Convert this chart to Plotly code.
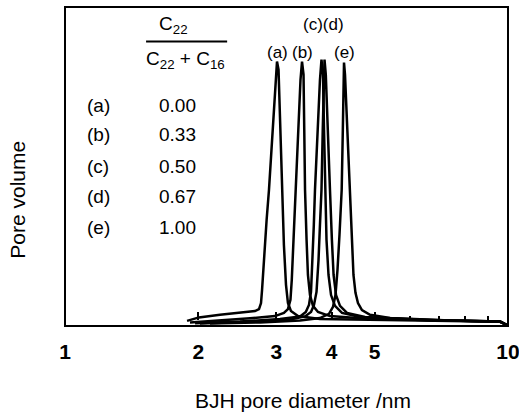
import numpy as np
import plotly.graph_objects as go

# Pore size distributions (BJH pore diameter in nm, pore volume in arbitrary units)
diam_a = [1.886, 2.006, 2.238, 2.483, 2.685, 2.741, 2.77, 2.785, 2.814, 2.852, 2.887, 2.948, 2.987, 3.01,
          3.034, 3.057, 3.089, 3.12, 3.154, 3.186, 3.236, 3.357, 3.763, 5.0, 7.4, 9.6, 9.95]
vol_a = [0.016, 0.027, 0.035, 0.041, 0.047, 0.053, 0.072, 0.113, 0.223, 0.333, 0.427, 0.631, 0.757, 0.829,
         0.804, 0.647, 0.427, 0.254, 0.129, 0.072, 0.047, 0.031, 0.022, 0.019, 0.016, 0.013, 0.003]

diam_b = [1.915, 2.238, 2.616, 2.979, 3.12, 3.186, 3.228, 3.25, 3.28, 3.305, 3.366, 3.401, 3.428,
          3.455, 3.468, 3.482, 3.51, 3.535, 3.573, 3.629, 3.725, 3.964, 4.634, 6.33, 9.6, 9.95]
vol_b = [0.011, 0.017, 0.024, 0.031, 0.041, 0.053, 0.082, 0.144, 0.27, 0.427, 0.647, 0.772, 0.829,
         0.788, 0.615, 0.427, 0.27, 0.16, 0.097, 0.063, 0.044, 0.031, 0.024, 0.019, 0.013, 0.003]

diam_c = [1.966, 2.483, 3.057, 3.393, 3.496, 3.554, 3.592, 3.62, 3.645, 3.667, 3.725, 3.763, 3.793,
          3.823, 3.843, 3.862, 3.893, 3.934, 3.986, 4.069, 4.22, 4.634, 6.33, 9.6, 9.95]
vol_c = [0.009, 0.014, 0.022, 0.030, 0.044, 0.066, 0.107, 0.207, 0.317, 0.427, 0.647, 0.772, 0.835,
         0.788, 0.615, 0.427, 0.27, 0.16, 0.097, 0.063, 0.041, 0.028, 0.019, 0.014, 0.003]

diam_d = [2.017, 2.616, 3.22, 3.482, 3.592, 3.648, 3.696, 3.735, 3.763, 3.793, 3.818, 3.838, 3.853,
          3.879, 3.914, 3.964, 4.004, 4.039, 4.091, 4.176, 4.331, 4.756, 6.67, 9.6, 9.95]
vol_d = [0.008, 0.013, 0.020, 0.030, 0.044, 0.066, 0.107, 0.207, 0.317, 0.427, 0.615, 0.757, 0.835,
         0.788, 0.615, 0.427, 0.27, 0.16, 0.097, 0.063, 0.041, 0.028, 0.019, 0.014, 0.003]

diam_e = [2.125, 2.755, 3.393, 3.763, 3.944, 4.027, 4.079, 4.122, 4.165, 4.213, 4.238, 4.253, 4.264,
          4.286, 4.341, 4.40, 4.444, 4.479, 4.526, 4.585, 4.681, 4.882, 5.415, 7.40, 9.6, 9.95]
vol_e = [0.008, 0.011, 0.017, 0.025, 0.038, 0.06, 0.097, 0.176, 0.286, 0.427, 0.615, 0.741, 0.826,
         0.788, 0.615, 0.427, 0.27, 0.16, 0.104, 0.072, 0.05, 0.035, 0.025, 0.017, 0.014, 0.003]

series_labels = ["(a)", "(b)", "(c)", "(d)", "(e)"]
ratios = ["0.00", "0.33", "0.50", "0.67", "1.00"]

x_tickvals = [1, 2, 3, 4, 5, 10]
x_ticktext = ["1", "2", "3", "4", "5", "10"]
inner_major = [2, 3, 4, 5]
inner_minor = [6, 7, 8, 9]

FONT = "Arial, Liberation Sans, sans-serif"


def txt(x, y, text, size, xref="paper", angle=0):
    return dict(x=x, y=y, xref=xref, yref="paper", text=text, showarrow=False,
                xanchor="center", yanchor="middle", textangle=angle,
                font=dict(size=size, family=FONT, color="black"))


fig = go.Figure()
for d, v in [(diam_a, vol_a), (diam_b, vol_b), (diam_c, vol_c), (diam_d, vol_d), (diam_e, vol_e)]:
    fig.add_trace(go.Scatter(x=d, y=v, mode="lines", line=dict(color="black", width=2.5),
                             showlegend=False, hoverinfo="skip"))

# invisible trace on inner baseline axis (carries the small baseline ticks)
fig.add_trace(go.Scatter(x=[1, 10], y=[0, 0], xaxis="x2", mode="lines",
                         line=dict(color="rgba(0,0,0,0)"), showlegend=False, hoverinfo="skip"))

ann = []
row_y = [0.691, 0.600, 0.499, 0.405, 0.308]
for lab, r, ypos in zip(series_labels, ratios, row_y):
    ann.append(txt(0.0745, ypos, lab, 19))
    ann.append(txt(0.255, ypos, r, 19))
ann.append(txt(0.244, 0.945, "C<sub>22</sub>", 19))
ann.append(txt(0.273, 0.835, "C<sub>22</sub> + C<sub>16</sub>", 19))
peak_pos = [(3.01, "(a)", 0.857), (3.428, "(b)", 0.857), (3.823, "(c)(d)", 0.945), (4.264, "(e)", 0.857)]
for xp, t, yp in peak_pos:
    ann.append(txt(np.log10(xp), yp, t, 17, xref="x"))
ann.append(txt(0.537, -0.232, "BJH pore diameter /nm", 21))
ann.append(txt(-0.106, 0.396, "Pore volume", 21, angle=-90))

fig.update_layout(
    width=519, height=415,
    margin=dict(l=65, r=11, t=7, b=89, autoexpand=False),
    paper_bgcolor="white", plot_bgcolor="white",
    showlegend=False,
    annotations=ann,
    shapes=[
        dict(type="line", xref="paper", yref="paper", x0=0.183, x1=0.366, y0=0.892, y1=0.892,
             line=dict(color="black", width=2)),
        dict(type="rect", xref="paper", yref="paper", x0=0, x1=1, y0=0, y1=1,
             line=dict(color="black", width=2), fillcolor="rgba(0,0,0,0)", layer="above"),
    ],
    xaxis=dict(type="log", range=[0, 1], tickvals=x_tickvals, ticktext=x_ticktext,
               ticks="outside", ticklen=7, tickcolor="rgba(0,0,0,0)", automargin=False,
               ticklabeloverflow="allow",
               tickfont=dict(size=21, family=FONT, color="black", weight="bold"),
               showgrid=False, zeroline=False, showline=False),
    xaxis2=dict(type="log", range=[0, 1], overlaying="x", anchor="free", position=0.019,
                side="bottom", tickvals=inner_major, ticks="inside", ticklen=8, tickwidth=2,
                tickcolor="black", showticklabels=False, showgrid=False, showline=False,
                zeroline=False, automargin=False,
                minor=dict(tickvals=inner_minor, ticks="inside", ticklen=4, tickwidth=2,
                           tickcolor="black", showgrid=False)),
    yaxis=dict(range=[0, 1], showticklabels=False, ticks="", showgrid=False, zeroline=False,
               showline=False, automargin=False),
)

fig.write_html(
    "out.html",
    config={"displayModeBar": False},
    post_script="document.body.style.margin='0';document.body.style.overflow='hidden';",
)
